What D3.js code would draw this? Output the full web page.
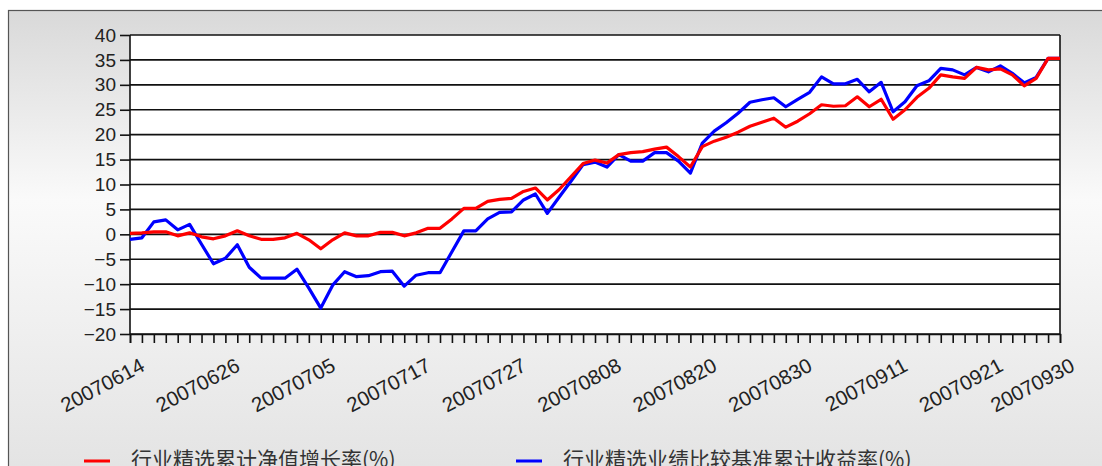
<!DOCTYPE html>
<html lang="zh">
<head>
<meta charset="UTF-8">
<title>行业精选</title>
<style>
  html, body { margin: 0; padding: 0; background: #fff; }
  svg { display: block; }
  .tick-label { font-family: "Liberation Sans", Arial, sans-serif; font-size: 19px; fill: #222; }
  .x-label { font-family: "Liberation Sans", Arial, sans-serif; font-size: 20.5px; fill: #222; }
  .legend-label { font-family: "Noto Sans CJK SC", sans-serif; font-size: 21px; fill: #333; }
</style>
</head>
<body>
<svg id="chart"></svg>
<script src="https://cdn.jsdelivr.net/npm/d3@7"></script>
<script>
// trading dates (incl. half-year / quarter end NAV dates)
var dates = [
  "20070614","20070615","20070618","20070619","20070620","20070621","20070622","20070625","20070626","20070627",
  "20070628","20070629","20070630","20070702","20070703","20070704","20070705","20070706","20070709","20070710",
  "20070711","20070712","20070713","20070716","20070717","20070718","20070719","20070720","20070723","20070724",
  "20070725","20070726","20070727","20070730","20070731","20070801","20070802","20070803","20070806","20070807",
  "20070808","20070809","20070810","20070813","20070814","20070815","20070816","20070817","20070820","20070821",
  "20070822","20070823","20070824","20070827","20070828","20070829","20070830","20070831","20070903","20070904",
  "20070905","20070906","20070907","20070910","20070911","20070912","20070913","20070914","20070917","20070918",
  "20070919","20070920","20070921","20070924","20070925","20070926","20070927","20070928","20070930"
];

// 行业精选累计净值增长率(%)
var fundGrowth = [
  0.2, 0.3, 0.5, 0.5, -0.3, 0.3, -0.5, -0.9, -0.3, 0.7,
  -0.3, -1.0, -1.0, -0.7, 0.2, -1.1, -2.9, -1.1, 0.3, -0.3,
  -0.3, 0.4, 0.4, -0.3, 0.3, 1.2, 1.2, 3.1, 5.2, 5.2,
  6.6, 7.0, 7.2, 8.6, 9.3, 6.9, 9.0, 11.6, 14.2, 14.9,
  14.3, 16.0, 16.4, 16.6, 17.1, 17.5, 15.6, 13.5, 17.6, 18.7,
  19.5, 20.5, 21.7, 22.5, 23.3, 21.5, 22.7, 24.2, 26.0, 25.7,
  25.8, 27.6, 25.6, 27.1, 23.1, 25.0, 27.5, 29.3, 32.0, 31.6,
  31.3, 33.5, 33.0, 33.2, 32.0, 29.8, 31.3, 35.3, 35.3
];

// 行业精选业绩比较基准累计收益率(%)
var benchReturn = [
  -1.0, -0.7, 2.5, 2.9, 0.9, 2.0, -2.0, -5.9, -4.8, -2.1,
  -6.6, -8.8, -8.8, -8.8, -7.0, -10.8, -14.8, -10.2, -7.5, -8.5,
  -8.3, -7.5, -7.4, -10.4, -8.2, -7.7, -7.7, -3.5, 0.7, 0.7,
  3.1, 4.4, 4.5, 6.9, 8.1, 4.2, 7.5, 10.7, 14.0, 14.5,
  13.5, 16.0, 14.7, 14.7, 16.4, 16.4, 14.7, 12.3, 18.3, 20.7,
  22.4, 24.3, 26.5, 27.0, 27.4, 25.6, 27.1, 28.5, 31.6, 30.2,
  30.2, 31.1, 28.6, 30.5, 24.6, 26.6, 29.8, 30.8, 33.3, 33.0,
  32.0, 33.5, 32.6, 33.8, 32.3, 30.4, 31.5, 35.3, 35.3
];

var xLabels = ["20070614","20070626","20070705","20070717","20070727","20070808",
               "20070820","20070830","20070911","20070921","20070930"];
var yTicks = [-20, -15, -10, -5, 0, 5, 10, 15, 20, 25, 30, 35, 40];

var seriesNames = ["行业精选累计净值增长率(%)", "行业精选业绩比较基准累计收益率(%)"];

var W = 1102, H = 466;
var plotL = 130, plotR = 1060, plotT = 35, plotB = 334;

var svg = d3.select("#chart").attr("width", W).attr("height", H);

var defs = svg.append("defs");
var grad = defs.append("linearGradient").attr("id", "bg")
  .attr("x1", 0).attr("y1", 0).attr("x2", 0).attr("y2", 1);
grad.append("stop").attr("offset", "0%").attr("stop-color", "#d9d9d9");
grad.append("stop").attr("offset", "40%").attr("stop-color", "#fafafa");
grad.append("stop").attr("offset", "100%").attr("stop-color", "#e2e2e2");

var soft = defs.append("filter").attr("id", "soft");
soft.append("feGaussianBlur").attr("stdDeviation", 0.45);

svg.append("rect").attr("x", 8.5).attr("y", 10.5).attr("width", W + 10).attr("height", H + 10)
  .attr("fill", "url(#bg)").attr("stroke", "#555").attr("stroke-width", 1.2);

var x = d3.scaleLinear().domain([0, dates.length - 1]).range([plotL, plotR]);
var y = d3.scaleLinear().domain([-20, 40]).range([plotB, plotT]);

svg.append("rect").attr("x", plotL).attr("y", plotT).attr("width", plotR - plotL).attr("height", plotB - plotT)
  .attr("fill", "#fff");

// y axis with ticks and labels
var yAxis = d3.axisLeft(y).tickValues(yTicks).tickSize(10).tickPadding(4);
var gy = svg.append("g").attr("transform", "translate(" + plotL + ",0)").call(yAxis);
gy.select(".domain").remove();
gy.selectAll("line").attr("stroke", "#111").attr("stroke-width", 1.6);
gy.selectAll("text").attr("class", "tick-label")
  .text(function (d) { return d < 0 ? "\u2212" + Math.abs(d) : d; });

// horizontal grid
svg.append("g").selectAll("line").data(yTicks).enter().append("line")
  .attr("x1", plotL).attr("x2", plotR)
  .attr("y1", function (d) { return y(d); }).attr("y2", function (d) { return y(d); })
  .attr("stroke", "#111").attr("stroke-width", 1.6);

// vertical borders
svg.append("line").attr("x1", plotL).attr("x2", plotL).attr("y1", plotT).attr("y2", plotB)
  .attr("stroke", "#111").attr("stroke-width", 1.6);
svg.append("line").attr("x1", plotR).attr("x2", plotR).attr("y1", plotT).attr("y2", plotB)
  .attr("stroke", "#111").attr("stroke-width", 1.6);

// x axis: one tick per date
var xAxis = d3.axisBottom(x).tickValues(d3.range(dates.length)).tickSize(9).tickFormat("");
var gx = svg.append("g").attr("transform", "translate(0," + plotB + ")").call(xAxis);
gx.select(".domain").attr("stroke", "#111").attr("stroke-width", 1.6);
gx.selectAll("line").attr("stroke", "#111").attr("stroke-width", 1.6);

svg.append("g").selectAll("text").data(xLabels).enter().append("text")
  .attr("class", "x-label")
  .attr("text-anchor", "end")
  .attr("transform", function (d) {
    return "translate(" + (x(dates.indexOf(d)) + 16) + "," + (plotB + 36) + ") rotate(-28)";
  })
  .text(function (d) { return d; });

// series lines
var line = d3.line().x(function (d, i) { return x(i); }).y(function (d) { return y(d); });
svg.append("path").datum(benchReturn).attr("d", line).attr("filter", "url(#soft)")
  .attr("fill", "none").attr("stroke", "#0000ff").attr("stroke-width", 3.2).attr("stroke-linejoin", "round");
svg.append("path").datum(fundGrowth).attr("d", line).attr("filter", "url(#soft)")
  .attr("fill", "none").attr("stroke", "#ff0000").attr("stroke-width", 3.2).attr("stroke-linejoin", "round");

// legend
var legendX = [84, 516];
var colors = ["#ff0000", "#0000ff"];
var lg = svg.append("g").selectAll("g").data(seriesNames).enter().append("g");
lg.append("line")
  .attr("x1", function (d, i) { return legendX[i]; })
  .attr("x2", function (d, i) { return legendX[i] + 26; })
  .attr("y1", 461).attr("y2", 461)
  .attr("stroke", function (d, i) { return colors[i]; }).attr("stroke-width", 3);
lg.append("text").attr("class", "legend-label")
  .attr("x", function (d, i) { return legendX[i] + 47; })
  .attr("y", 467)
  .text(function (d) { return d; });
</script>
</body>
</html>
